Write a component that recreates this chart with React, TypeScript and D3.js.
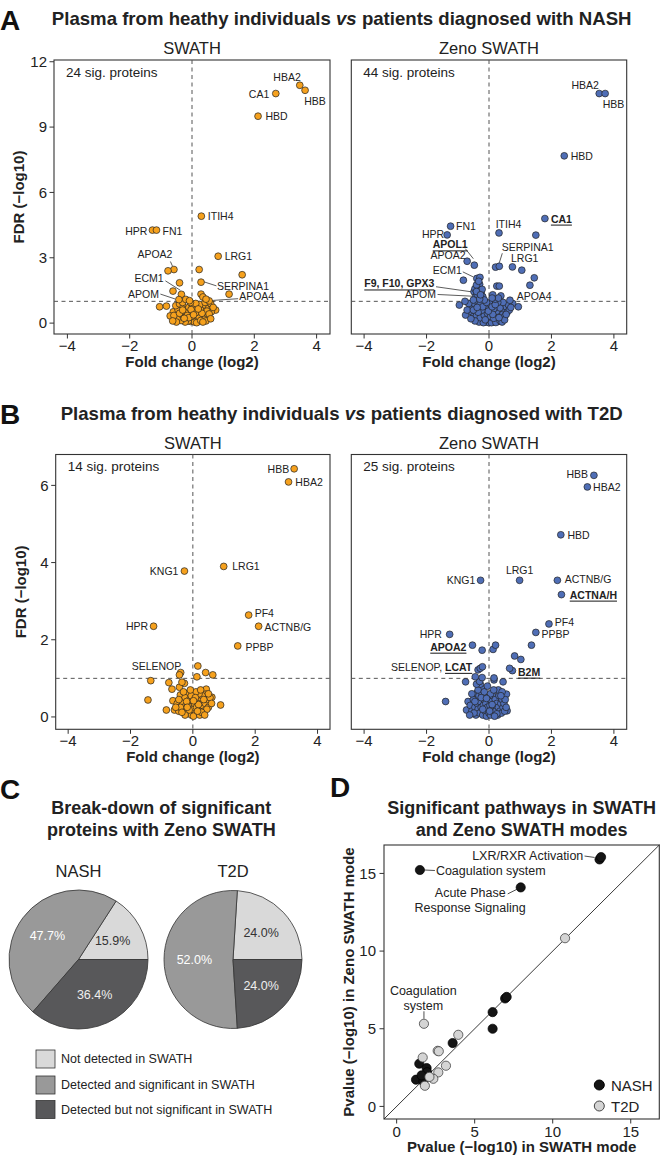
import React from 'react';
import * as d3 from 'd3';

type Pt = [string, number, number];
type NP = [number, number];

// ---------- Panel A: NASH ----------
const nashSwathSig: Pt[] = [
  ['HBA2', 3.46, 10.92], ['HBB', 3.63, 10.69], ['CA1', 2.69, 10.54], ['HBD', 2.12, 9.5],
  ['ITIH4', 0.3, 4.91], ['HPR', -1.27, 4.27], ['FN1', -1.14, 4.27], ['LRG1', 0.84, 3.07],
  ['APOA2', -0.58, 2.46], ['', -0.77, 2.4], ['', 0.23, 2.46], ['', 1.61, 2.22],
  ['', -0.4, 1.85], ['SERPINA1', 0.29, 1.88], ['', -0.61, 1.47], ['ECM1', -0.34, 1.32],
  ['', 0.29, 1.33], ['', 1.19, 1.33], ['APOA4', 0.55, 1.02], ['', 0.35, 1.2],
  ['', -0.2, 1.09], ['APOM', -0.42, 1.08], ['', 0.45, 1.1], ['', -0.08, 1.03],
];
const nashSwathNs: NP[] = [
  [-1.04, 0.75], [-0.82, 0.78], [-0.6, 0.52], [-0.7, 0.33], [-0.38, 0.33], [0.76, 0.6], [0.55, 0.75],
  [0.62, 0.52], [0.45, 0.68], [0.35, 0.82], [0.28, 0.6], [0.2, 0.45], [0.1, 0.3], [0.02, 0.15],
  [-0.05, 0.08], [-0.15, 0.2], [-0.25, 0.35], [-0.32, 0.5], [-0.45, 0.62], [-0.52, 0.8], [-0.4, 0.88],
  [-0.28, 0.75], [-0.18, 0.62], [-0.08, 0.45], [0.05, 0.55], [0.15, 0.68], [0.25, 0.85], [0.4, 0.45],
  [0.5, 0.3], [0.3, 0.3], [0.18, 0.18], [0.08, 0.05], [-0.02, 0.3], [-0.12, 0.1], [-0.22, 0.05],
  [-0.35, 0.12], [-0.48, 0.2], [-0.58, 0.35], [-0.2, 0.5], [-0.1, 0.72], [0.0, 0.85], [0.12, 0.9],
  [-0.3, 0.95], [0.6, 0.9], [0.42, 0.95], [0.68, 0.72], [0.48, 0.55], [0.38, 0.18], [0.22, 0.3],
  [0.12, 0.48], [-0.03, 0.62], [-0.4, 0.45], [-0.15, 0.35], [0.32, 0.45], [0.55, 0.42], [-0.5, 0.05],
  [-0.1, 0.25], [0.15, 0.02], [0.28, 0.12], [-0.25, 0.22], [0.05, 0.38], [0.45, 0.1], [-0.62, 0.1],
  [0.2, 0.65], [-0.05, 0.95], [0.35, 0.05], [-0.3, 0.6], [0.6, 0.2],
];
const nashZenoSig: Pt[] = [
  ['HBA2', 3.53, 10.54], ['HBB', 3.72, 10.54], ['HBD', 2.41, 7.68], ['CA1', 1.79, 4.8], ['', 1.5, 4.04],
  ['FN1', -1.23, 4.45], ['HPR', -1.34, 4.05], ['ITIH4', 0.32, 4.14], ['APOA2', -0.7, 2.84], ['APOL1', -0.47, 2.66],
  ['', 0.21, 2.57], ['SERPINA1', 0.33, 2.61], ['LRG1', 0.75, 2.58], ['', 1.05, 2.43], ['', 1.45, 2.08], ['', 1.31, 1.74],
  ['ECM1', -0.39, 2.05], ['', -0.29, 2.1], ['', -0.82, 1.97], ['', 0.25, 1.7], ['', 0.33, 1.7],
  ['F9, F10, GPX3', -0.48, 1.44], ['', -0.35, 1.6], ['', -0.3, 1.78], ['', -0.45, 1.58], ['APOM', -0.43, 1.2], ['APOA4', 0.38, 1.25],
  ['', -0.38, 1.32], ['', -0.25, 1.42], ['', -0.2, 1.22], ['', -0.15, 1.06], ['', -0.3, 1.1], ['', -0.5, 1.06], ['', 0.2, 1.1], ['', 0.3, 1.15],
  ['', -0.22, 1.55], ['', -0.4, 1.75], ['', -0.33, 1.92], ['', 0.12, 1.3], ['', 0.67, 1.05], ['', -0.77, 1.0], ['', -0.4, 1.45], ['', -0.27, 1.3], ['', 0.1, 1.15],
];
const nashZenoNs: NP[] = [
  [-0.95, 0.83], [-0.75, 0.37], [0.76, 0.9], [0.94, 0.75], [-0.6, 0.7], [-0.55, 0.5], [-0.5, 0.3], [-0.45, 0.85],
  [-0.42, 0.62], [-0.4, 0.15], [-0.38, 0.45], [-0.35, 0.95], [-0.33, 0.75], [-0.3, 0.3], [-0.28, 0.55], [-0.25, 0.1],
  [-0.22, 0.85], [-0.2, 0.4], [-0.18, 0.65], [-0.15, 0.2], [-0.12, 0.5], [-0.1, 0.05], [-0.08, 0.3], [-0.05, 0.7],
  [-0.03, 0.15], [0, 0.02], [0.02, 0.4], [0.05, 0.1], [0.08, 0.6], [0.1, 0.25], [0.12, 0.85], [0.15, 0.05],
  [0.18, 0.45], [0.2, 0.15], [0.22, 0.7], [0.25, 0.3], [0.28, 0.5], [0.3, 0.08], [0.32, 0.9], [0.35, 0.35],
  [0.38, 0.6], [0.4, 0.2], [0.42, 0.8], [0.45, 0.45], [0.48, 0.65], [0.5, 0.3], [0.55, 0.75], [0.58, 0.5],
  [0.62, 0.85], [0.65, 0.6], [0.7, 0.72], [-0.65, 0.9], [-0.7, 0.6], [-0.48, 0.2], [-0.32, 0.05], [-0.18, 0.02],
  [0.08, 0.02], [0.22, 0.03], [0.35, 0.12], [-0.4, 0.35], [-0.28, 0.25], [-0.15, 0.35], [-0.05, 0.45], [0.05, 0.3],
  [0.15, 0.22], [0.25, 0.55], [0.35, 0.7], [-0.22, 0.6], [-0.1, 0.8], [0.02, 0.9], [0.15, 0.65], [-0.35, 0.5],
  [-0.5, 0.6], [0.45, 0.95], [0.28, 0.95], [-0.28, 0.88], [-0.45, 0.1], [0.42, 0.05], [0.5, 0.15], [-0.58, 0.2],
  [-0.12, 0.15], [0.12, 0.4], [-0.02, 0.55], [0.32, 0.25], [-0.2, 0.75], [0.1, 0.75], [0.2, 0.85], [-0.38, 0.72],
  [0.55, 0.4], [-0.08, 0.95],
];

// ---------- Panel B: T2D ----------
const t2dSwathSig: Pt[] = [
  ['HBB', 3.25, 6.43], ['HBA2', 3.07, 6.09], ['KNG1', -0.27, 3.78], ['LRG1', 0.99, 3.9], ['PF4', 1.79, 2.64],
  ['ACTNB/G', 2.11, 2.35], ['HPR', -1.26, 2.35], ['PPBP', 1.44, 1.84], ['SELENOP', -0.39, 1.15], ['', -0.43, 1.09],
  ['', 0.16, 1.32], ['', 0.41, 1.15], ['', 0.64, 1.09], ['', 0.13, 1.04],
];
const t2dSwathNs: NP[] = [
  [-1.35, 0.94], [-0.77, 0.89], [-0.27, 0.87], [-0.67, 0.72], [-0.43, 0.77], [-1.44, 0.44], [0.89, 0.31],
  [-0.85, 0.18], [-0.59, 0.18], [0.43, 0.72], [0.61, 0.51], [0.41, 0.59], [-0.64, 0.42], [-0.4, 0.57], [-0.16, 0.61],
  [-0.5, 0.35], [-0.45, 0.15], [-0.35, 0.4], [-0.3, 0.25], [-0.25, 0.5], [-0.2, 0.1], [-0.15, 0.3], [-0.1, 0.45],
  [-0.05, 0.05], [0, 0.2], [0.05, 0.35], [0.1, 0.1], [0.15, 0.4], [0.2, 0.2], [0.25, 0.5], [0.3, 0.3], [0.35, 0.15],
  [0.4, 0.35], [0.45, 0.45], [0.5, 0.25], [0.55, 0.5], [0.3, 0.55], [0.2, 0.6], [0.1, 0.65], [-0.05, 0.55],
  [-0.3, 0.65], [-0.2, 0.4], [-0.4, 0.25], [-0.12, 0.18], [0.02, 0.02], [0.12, 0.25], [0.22, 0.05], [-0.25, 0.05],
  [0.35, 0.45], [0.45, 0.2], [-0.55, 0.25], [0.6, 0.35], [0.08, 0.5], [-0.08, 0.7], [0.28, 0.12], [-0.35, 0.12],
  [0.18, 0.32], [-0.18, 0.25], [0.38, 0.05], [-0.45, 0.45], [0.5, 0.6], [0.25, 0.7], [-0.35, 0.9], [0.02, 0.42],
  [0.15, 0.15],
];
const t2dZenoSig: Pt[] = [
  ['HBB', 3.36, 6.26], ['HBA2', 3.15, 5.96], ['HBD', 2.3, 4.72], ['LRG1', 0.98, 3.54], ['KNG1', -0.27, 3.54],
  ['ACTNB/G', 2.19, 3.54], ['ACTNA/H', 2.32, 3.17], ['PF4', 1.92, 2.41], ['PPBP', 1.5, 2.19], ['HPR', -1.26, 2.14],
  ['APOA2', -0.53, 1.86], ['', -0.22, 1.73], ['', 0.13, 1.75], ['', 0.21, 1.86], ['', 1.36, 1.86], ['', 0.82, 1.58],
  ['', 1.02, 1.49], ['SELENOP, LCAT', -0.35, 1.22], ['', -0.28, 1.26], ['', -0.21, 1.3], ['B2M', 0.75, 1.2],
  ['', 0.66, 1.26], ['', -0.44, 1.04], ['', -0.22, 1.02], ['', 0.16, 1.01],
];
const t2dZenoNs: NP[] = [
  [-0.75, 0.91], [0.16, 0.96], [0.45, 0.91], [-1.39, 0.4], [-0.67, 0.4], [-0.4, 0.61], [-0.24, 0.74], [0.56, 0.59],
  [0.34, 0.48], [0.58, 0.16], [-0.72, 0.18], [-0.6, 0.3], [-0.55, 0.15], [-0.5, 0.45], [-0.45, 0.25], [-0.42, 0.05],
  [-0.38, 0.35], [-0.35, 0.2], [-0.32, 0.55], [-0.3, 0.1], [-0.28, 0.4], [-0.25, 0.25], [-0.22, 0.6], [-0.2, 0.05],
  [-0.18, 0.3], [-0.15, 0.45], [-0.12, 0.15], [-0.1, 0.35], [-0.08, 0.02], [-0.05, 0.25], [-0.02, 0.5], [0, 0.1],
  [0.03, 0.3], [0.05, 0.05], [0.08, 0.4], [0.1, 0.2], [0.12, 0.55], [0.15, 0.1], [0.18, 0.3], [0.2, 0.45],
  [0.22, 0.15], [0.25, 0.35], [0.28, 0.05], [0.3, 0.25], [0.32, 0.55], [0.35, 0.15], [0.38, 0.35], [0.4, 0.1],
  [0.42, 0.45], [0.45, 0.25], [0.48, 0.35], [0.5, 0.15], [0.52, 0.45], [-0.55, 0.6], [-0.35, 0.7], [-0.28, 0.85],
  [-0.4, 0.85], [-0.3, 0.92], [0.3, 0.7], [0.42, 0.65], [-0.48, 0.1], [-0.62, 0.05], [0.25, 0.08], [-0.15, 0.65],
  [0.05, 0.6], [0.15, 0.7], [-0.05, 0.8], [-0.25, 0.5], [-0.08, 0.48], [0.1, 0.32], [0.38, 0.55], [-0.45, 0.4],
  [0.55, 0.25], [-0.2, 0.2], [0.02, 0.15], [0.18, 0.02],
];

const xTicks = [-4, -2, 0, 2, 4];
const yTicksA = [0, 3, 6, 9, 12];
const yTicksB = [0, 2, 4, 6];

// ---------- Panel C ----------
const pieCategories = ['Not detected in SWATH', 'Detected and significant in SWATH', 'Detected but not significant in SWATH'];
const nashShares = [15.9, 47.7, 36.4];
const t2dShares = [24.0, 52.0, 24.0];

// ---------- Panel D ----------
const nashPathSwath = [13.0, 13.1, 1.49, 7.95, 6.95, 7.05, 6.15, 6.15, 3.59, 1.45, 1.92, 1.95, 1.24, 1.71, 1.6];
const nashPathZeno = [15.9, 16.05, 15.22, 14.1, 6.95, 7.05, 6.07, 5.0, 4.08, 2.75, 2.47, 2.2, 1.72, 1.61, 2.0];
const nashPathNames = ['LXR/RXR Activation', '', 'Coagulation system', 'Acute Phase Response Signaling', '', '', '', '', '', '', '', '', '', '', ''];
const t2dPathSwath = [10.79, 1.75, 3.95, 2.63, 2.7, 1.67, 3.16, 2.67, 2.35, 1.81, 2.1];
const t2dPathZeno = [10.83, 5.32, 4.61, 3.58, 3.55, 3.15, 2.62, 2.19, 1.78, 1.33, 1.9];
const t2dPathNames = ['', 'Coagulation system', '', '', '', '', '', '', '', '', ''];
const dTicks = [0, 5, 10, 15];

// ---------- layout / style ----------
const FONT = 'Liberation Sans, Arial, Helvetica, sans-serif';
const ORANGE = '#F6A11D';
const BLUE = '#4F6EB6';
const INK = '#222';

type Lab = { dx: number; dy: number; a: 'start' | 'end' | 'middle'; b?: boolean; line?: number[]; mixed?: boolean };

const labNashSwath: Record<string, Lab> = {
  HBA2: { dx: -12.7, dy: -8.5, a: 'middle' },
  HBB: { dx: 10, dy: 10.5, a: 'middle' },
  CA1: { dx: -6.5, dy: 0, a: 'end' },
  HBD: { dx: 7.5, dy: 0, a: 'start' },
  ITIH4: { dx: 6.5, dy: 0, a: 'start' },
  HPR: { dx: -5, dy: 0.5, a: 'end' },
  FN1: { dx: 6, dy: 0.5, a: 'start' },
  LRG1: { dx: 6.5, dy: 0, a: 'start' },
  APOA2: { dx: -19, dy: -16, a: 'middle', line: [-3.5, -8, -1.5, -3.5] },
  ECM1: { dx: -17.7, dy: -16, a: 'end', line: [-16, -13.5, -1, -4] },
  SERPINA1: { dx: 16, dy: 3.7, a: 'start', line: [3, -0.3, 15.4, 3.7] },
  APOM: { dx: -20, dy: -5.5, a: 'end', line: [-18.5, -5.5, -3.5, -0.5] },
  APOA4: { dx: 30, dy: -4.5, a: 'start', line: [4, -0.5, 29, -2.2] },
};
const labNashZeno: Record<string, Lab> = {
  HBA2: { dx: -14, dy: -9, a: 'middle' },
  HBB: { dx: 8.3, dy: 10.8, a: 'middle' },
  HBD: { dx: 6.5, dy: 0, a: 'start' },
  CA1: { dx: 6, dy: 0, a: 'start', b: true },
  FN1: { dx: 5.5, dy: 0, a: 'start' },
  HPR: { dx: -3, dy: -1.2, a: 'end' },
  ITIH4: { dx: -3.3, dy: -8.7, a: 'start' },
  APOL1: { dx: -6.6, dy: -20.8, a: 'end', b: true, line: [-9, -16.5, -1, -6.5] },
  APOA2: { dx: -1.5, dy: -6.3, a: 'end' },
  SERPINA1: { dx: 2.4, dy: -19.4, a: 'start', line: [3, -13, 0, -3.5] },
  LRG1: { dx: -1.4, dy: -9, a: 'start' },
  ECM1: { dx: -15, dy: -8.3, a: 'end', line: [-14, -6.6, -3.5, -1.5] },
  'F9, F10, GPX3': { dx: -39.7, dy: -8.3, a: 'end', b: true, line: [-38, -5, -3, 0] },
  APOM: { dx: -39.6, dy: -2.5, a: 'end', line: [-38, -2.5, -3.5, -0.8] },
  APOA4: { dx: 15.8, dy: 0, a: 'start' },
};
const labT2dSwath: Record<string, Lab> = {
  HBB: { dx: -5, dy: 0, a: 'end' },
  HBA2: { dx: 6.8, dy: 0, a: 'start' },
  KNG1: { dx: -6, dy: 0, a: 'end' },
  LRG1: { dx: 8.5, dy: 0, a: 'start' },
  PF4: { dx: 6, dy: -1.6, a: 'start' },
  'ACTNB/G': { dx: 6, dy: 0.5, a: 'start' },
  HPR: { dx: -5.5, dy: 0, a: 'end' },
  PPBP: { dx: 7.7, dy: 0.8, a: 'start' },
  SELENOP: { dx: 0.6, dy: -6.5, a: 'end' },
};
const labT2dZeno: Record<string, Lab> = {
  HBB: { dx: -5.8, dy: -1.6, a: 'end' },
  HBA2: { dx: 5.7, dy: 0, a: 'start' },
  HBD: { dx: 6.6, dy: 0, a: 'start' },
  LRG1: { dx: 0, dy: -10, a: 'middle' },
  KNG1: { dx: -5.2, dy: 0, a: 'end' },
  'ACTNB/G': { dx: 7.4, dy: -1.8, a: 'start' },
  'ACTNA/H': { dx: 8.3, dy: 0, a: 'start', b: true },
  PF4: { dx: 5.8, dy: -2, a: 'start' },
  PPBP: { dx: 5.6, dy: 2, a: 'start' },
  HPR: { dx: -7.7, dy: 0, a: 'end' },
  APOA2: { dx: -6, dy: 1.5, a: 'end', b: true },
  'SELENOP, LCAT': { dx: -5.8, dy: -3, a: 'end', mixed: true },
  B2M: { dx: 5.6, dy: 1, a: 'start', b: true },
};

type VProps = {
  left: number; right: number; top: number; bottom: number;
  xDom: [number, number]; yDom: [number, number]; yTicks: number[]; showY: boolean;
  ns: NP[]; sig: Pt[]; labels: Record<string, Lab>; color: string; title: string; sigText: string;
};

function Volcano(p: VProps) {
  const x = d3.scaleLinear().domain(p.xDom).range([p.left, p.right]);
  const y = d3.scaleLinear().domain(p.yDom).range([p.bottom, p.top]);
  const r = 3.4;
  const cx = (p.left + p.right) / 2;
  const cy = (p.top + p.bottom) / 2;
  const named = p.sig.filter((d) => d[0] && p.labels[d[0]]);
  return (
    <g fontFamily={FONT}>
      <text x={cx} y={p.top - 6} textAnchor="middle" fontSize={16.5} fill={INK}>{p.title}</text>
      <rect x={p.left} y={p.top} width={p.right - p.left} height={p.bottom - p.top} fill="none" stroke="#333" strokeWidth={1.1} />
      <line x1={x(0)} x2={x(0)} y1={p.top} y2={p.bottom} stroke="#555" strokeDasharray="4,3.5" strokeWidth={1} />
      <line x1={p.left} x2={p.right} y1={y(1)} y2={y(1)} stroke="#555" strokeDasharray="4,3.5" strokeWidth={1} />
      {xTicks.map((t) => (
        <g key={'xt' + t}>
          <line x1={x(t)} x2={x(t)} y1={p.bottom} y2={p.bottom + 4.5} stroke="#333" />
          <text x={x(t)} y={p.bottom + 17} textAnchor="middle" fontSize={15} fill={INK}>{t < 0 ? '\u2212' + Math.abs(t) : t}</text>
        </g>
      ))}
      <text x={cx} y={p.bottom + 32.5} textAnchor="middle" fontSize={15} fontWeight="bold" fill={INK}>Fold change (log2)</text>
      {p.showY && p.yTicks.map((t) => (
        <g key={'yt' + t}>
          <line x1={p.left - 4.5} x2={p.left} y1={y(t)} y2={y(t)} stroke="#333" />
          <text x={p.left - 7} y={y(t) + 5.2} textAnchor="end" fontSize={15} fill={INK}>{t}</text>
        </g>
      ))}
      {p.showY && (
        <text transform={`translate(${p.left - 30},${cy}) rotate(-90)`} textAnchor="middle" fontSize={15} fontWeight="bold" fill={INK}>FDR ({'\u2212'}log10)</text>
      )}
      <text x={p.left + 12} y={p.top + 16.5} fontSize={13.5} fill={INK}>{p.sigText}</text>
      {named.map((d) => {
        const L = p.labels[d[0]];
        if (!L.line) return null;
        const px = x(d[1]), py = y(d[2]);
        return <line key={'ln' + d[0]} x1={px + L.line[0]} y1={py + L.line[1]} x2={px + L.line[2]} y2={py + L.line[3]} stroke="#333" strokeWidth={0.8} />;
      })}
      {p.ns.map((d, i) => (
        <circle key={'n' + i} cx={x(d[0])} cy={y(d[1])} r={r} fill={p.color} stroke="#222" strokeWidth={0.7} />
      ))}
      {p.sig.map((d, i) => (
        <circle key={'s' + i} cx={x(d[1])} cy={y(d[2])} r={r} fill={p.color} stroke="#222" strokeWidth={0.7} />
      ))}
      {named.map((d) => {
        const L = p.labels[d[0]];
        const px = x(d[1]), py = y(d[2]);
        if (L.mixed) {
          const parts = d[0].split(', ');
          return (
            <text key={'t' + d[0]} x={px + L.dx} y={py + L.dy} textAnchor={L.a} dominantBaseline="central" fontSize={10.5} fill={INK}>
              {parts[0] + ', '}
              <tspan fontWeight="bold" textDecoration="underline">{parts[1]}</tspan>
            </text>
          );
        }
        return (
          <text key={'t' + d[0]} x={px + L.dx} y={py + L.dy} textAnchor={L.a} dominantBaseline="central" fontSize={10.5}
            fill={INK} fontWeight={L.b ? 'bold' : 'normal'} textDecoration={L.b ? 'underline' : 'none'}>{d[0]}</text>
        );
      })}
    </g>
  );
}

const pieColors = ['#D9D9D9', '#999999', '#58585A'];
const pieTextColors = ['#333', '#fff', '#eee'];

function Pie({ cx, cy, R, shares, title }: { cx: number; cy: number; R: number; shares: number[]; title: string }) {
  const arc = d3.arc<any>().innerRadius(0).outerRadius(R);
  const total = d3.sum(shares);
  let cum = 0;
  const slices = shares.map((s, i) => {
    const a0 = Math.PI / 2 - (2 * Math.PI * cum) / total;
    cum += s;
    const a1 = Math.PI / 2 - (2 * Math.PI * cum) / total;
    return { s, i, a0, a1 };
  });
  return (
    <g fontFamily={FONT}>
      <text x={cx} y={877} textAnchor="middle" fontSize={16.5} fill={INK}>{title}</text>
      {slices.map((sl) => (
        <path key={sl.i} transform={`translate(${cx},${cy})`} d={arc({ startAngle: sl.a0, endAngle: sl.a1 }) || ''}
          fill={pieColors[sl.i]} stroke="#333" strokeWidth={0.8} />
      ))}
      {slices.map((sl) => {
        const m = (sl.a0 + sl.a1) / 2;
        const rl = R * 0.56;
        return (
          <text key={'l' + sl.i} x={cx + Math.sin(m) * rl} y={cy - Math.cos(m) * rl} textAnchor="middle" dominantBaseline="central"
            fontSize={12.5} fill={pieTextColors[sl.i]}>{sl.s.toFixed(1)}%</text>
        );
      })}
    </g>
  );
}

function Pathways() {
  const left = 384, right = 659.3, top = 845, bottom = 1119;
  const dom: [number, number] = [-0.81, 16.83];
  const x = d3.scaleLinear().domain(dom).range([left, right]);
  const y = d3.scaleLinear().domain(dom).range([bottom, top]);
  const r = 4.6;
  const nash = nashPathSwath.map((v, i) => ({ sx: v, zy: nashPathZeno[i], name: nashPathNames[i] }));
  const t2d = t2dPathSwath.map((v, i) => ({ sx: v, zy: t2dPathZeno[i], name: t2dPathNames[i] }));
  const cx = (left + right) / 2, cy = (top + bottom) / 2;
  const lxr = nash.find((d) => d.name === 'LXR/RXR Activation')!;
  const coagN = nash.find((d) => d.name === 'Coagulation system')!;
  const acute = nash.find((d) => d.name === 'Acute Phase Response Signaling')!;
  const coagT = t2d.find((d) => d.name === 'Coagulation system')!;
  return (
    <g fontFamily={FONT}>
      <text x={521.7} y={814} textAnchor="middle" fontSize={18} fontWeight="bold" fill={INK}>Significant pathways in SWATH</text>
      <text x={521.7} y={835.5} textAnchor="middle" fontSize={18} fontWeight="bold" fill={INK}>and Zeno SWATH modes</text>
      <rect x={left} y={top} width={right - left} height={bottom - top} fill="none" stroke="#333" strokeWidth={1.1} />
      <line x1={x(dom[0])} y1={y(dom[0])} x2={x(dom[1])} y2={y(dom[1])} stroke="#222" strokeWidth={0.9} />
      {dTicks.map((t) => (
        <g key={'dx' + t}>
          <line x1={x(t)} x2={x(t)} y1={bottom} y2={bottom + 4.5} stroke="#333" />
          <text x={x(t)} y={bottom + 17.5} textAnchor="middle" fontSize={15} fill={INK}>{t}</text>
          <line x1={left - 4.5} x2={left} y1={y(t)} y2={y(t)} stroke="#333" />
          <text x={left - 8} y={y(t) + 5.2} textAnchor="end" fontSize={15} fill={INK}>{t}</text>
        </g>
      ))}
      <text x={cx} y={1151.5} textAnchor="middle" fontSize={15} fontWeight="bold" fill={INK}>Pvalue ({'\u2212'}log10) in SWATH mode</text>
      <text transform={`translate(${348.5},${cy}) rotate(-90)`} textAnchor="middle" dominantBaseline="central" fontSize={15} fontWeight="bold" fill={INK}>Pvalue ({'\u2212'}log10) in Zeno SWATH mode</text>
      {/* annotation lines */}
      <line x1={x(lxr.sx) - 15} y1={y(lxr.zy) - 3.4} x2={x(lxr.sx) - 5} y2={y(lxr.zy) - 2} stroke="#222" strokeWidth={0.8} />
      <line x1={x(coagN.sx) + 4.5} y1={y(coagN.zy)} x2={x(coagN.sx) + 15} y2={y(coagN.zy) + 0.5} stroke="#222" strokeWidth={0.8} />
      <line x1={x(acute.sx) - 13} y1={y(acute.zy) + 6.5} x2={x(acute.sx) - 4} y2={y(acute.zy) + 2} stroke="#222" strokeWidth={0.8} />
      <line x1={x(coagT.sx)} y1={y(coagT.zy) - 12.5} x2={x(coagT.sx)} y2={y(coagT.zy) - 5} stroke="#222" strokeWidth={0.8} />
      {nash.map((d, i) => (
        <circle key={'pn' + i} cx={x(d.sx)} cy={y(d.zy)} r={r} fill="#151515" stroke="#000" strokeWidth={0.7} />
      ))}
      {t2d.map((d, i) => (
        <circle key={'pt' + i} cx={x(d.sx)} cy={y(d.zy)} r={r} fill="#D4D4D4" stroke="#444" strokeWidth={0.8} />
      ))}
      <g fontSize={12.5} fill={INK}>
        <text x={x(lxr.sx) - 16.2} y={y(lxr.zy) - 3.4} textAnchor="end" dominantBaseline="central">LXR/RXR Activation</text>
        <text x={x(coagN.sx) + 16} y={y(coagN.zy) + 1} textAnchor="start" dominantBaseline="central">Coagulation system</text>
        <text x={x(acute.sx) - 15} y={y(acute.zy) + 6} textAnchor="end" dominantBaseline="central">Acute Phase</text>
        <text x={x(acute.sx) - 50.7} y={y(acute.zy) + 21} textAnchor="middle" dominantBaseline="central">Response Signaling</text>
        <text x={x(coagT.sx) - 0.7} y={y(coagT.zy) - 32.3} textAnchor="middle" dominantBaseline="central">Coagulation</text>
        <text x={x(coagT.sx) - 0.7} y={y(coagT.zy) - 17.3} textAnchor="middle" dominantBaseline="central">system</text>
      </g>
      <circle cx={599.3} cy={1085} r={5} fill="#151515" stroke="#000" />
      <text x={611} y={1085} dominantBaseline="central" fontSize={15} fill={INK}>NASH</text>
      <circle cx={599.3} cy={1106} r={5} fill="#D4D4D4" stroke="#444" />
      <text x={611} y={1106} dominantBaseline="central" fontSize={15} fill={INK}>T2D</text>
    </g>
  );
}

export default function App() {
  const legendY = [1050, 1076, 1100.5];
  return (
    <svg width={666} height={1158} style={{ position: 'absolute', left: 0, top: 0, background: '#fff' }} fontFamily={FONT}>
      <rect x={0} y={0} width={666} height={1158} fill="#fff" />
      {/* Panel A */}
      <text x={0} y={29.5} fontSize={28} fontWeight="bold" fill="#111">A</text>
      <text x={341.7} y={25} textAnchor="middle" fontSize={18.6} fontWeight="bold" fill={INK}>
        Plasma from heathy individuals{' '}<tspan fontStyle="italic">vs</tspan>{' '}patients diagnosed with NASH
      </text>
      <Volcano left={54} right={330} top={60} bottom={334} xDom={[-4.43, 4.43]} yDom={[-0.5, 12.08]} yTicks={yTicksA} showY
        ns={nashSwathNs} sig={nashSwathSig} labels={labNashSwath} color={ORANGE} title="SWATH" sigText="24 sig. proteins" />
      <Volcano left={351.3} right={626.7} top={60} bottom={334} xDom={[-4.41, 4.41]} yDom={[-0.5, 12.08]} yTicks={yTicksA} showY={false}
        ns={nashZenoNs} sig={nashZenoSig} labels={labNashZeno} color={BLUE} title="Zeno SWATH" sigText="44 sig. proteins" />
      {/* Panel B */}
      <text x={0} y={424} fontSize={28} fontWeight="bold" fill="#111">B</text>
      <text x={341.7} y={420} textAnchor="middle" fontSize={18.6} fontWeight="bold" fill={INK}>
        Plasma from heathy individuals{' '}<tspan fontStyle="italic">vs</tspan>{' '}patients diagnosed with T2D
      </text>
      <Volcano left={55.7} right={330} top={454.5} bottom={729.3} xDom={[-4.4, 4.4]} yDom={[-0.32, 6.8]} yTicks={yTicksB} showY
        ns={t2dSwathNs} sig={t2dSwathSig} labels={labT2dSwath} color={ORANGE} title="SWATH" sigText="14 sig. proteins" />
      <Volcano left={351.3} right={626.7} top={454.5} bottom={729.3} xDom={[-4.41, 4.41]} yDom={[-0.32, 6.8]} yTicks={yTicksB} showY={false}
        ns={t2dZenoNs} sig={t2dZenoSig} labels={labT2dZeno} color={BLUE} title="Zeno SWATH" sigText="25 sig. proteins" />
      {/* Panel C */}
      <text x={0} y={799.3} fontSize={28} fontWeight="bold" fill="#111">C</text>
      <text x={161.3} y={814} textAnchor="middle" fontSize={18} fontWeight="bold" fill={INK}>Break-down of significant</text>
      <text x={161.3} y={835.5} textAnchor="middle" fontSize={18} fontWeight="bold" fill={INK}>proteins with Zeno SWATH</text>
      <Pie cx={78.5} cy={959.5} R={69.5} shares={nashShares} title="NASH" />
      <Pie cx={233} cy={959.5} R={69} shares={t2dShares} title="T2D" />
      {pieCategories.map((c, i) => (
        <g key={c}>
          <rect x={36} y={legendY[i]} width={19} height={18} fill={pieColors[i]} stroke="#333" strokeWidth={0.8} />
          <text x={61} y={legendY[i] + 9} dominantBaseline="central" fontSize={12.5} fill={INK}>{c}</text>
        </g>
      ))}
      {/* Panel D */}
      <text x={330} y={797.3} fontSize={28} fontWeight="bold" fill="#111">D</text>
      <Pathways />
    </svg>
  );
}
